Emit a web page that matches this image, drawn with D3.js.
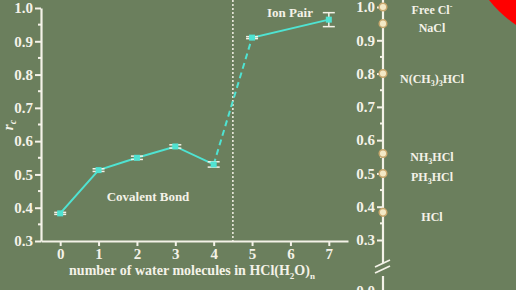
<!DOCTYPE html>
<html>
<head>
<meta charset="utf-8">
<script src="https://cdn.jsdelivr.net/npm/d3@7"></script>
<style>
    body { margin: 0; background: #6b7f5d; }
    svg { display: block; }
    text { font-family: "Liberation Serif", "Times New Roman", serif; font-weight: bold; fill: #f4f2e8; }
</style>
</head>
<body>
<div id="chart"></div>
<script>
// water molecules n and contact ratio r_c
const waterN = [0, 1, 2, 3, 4, 5, 7]
const rcValues = [0.383, 0.513, 0.55, 0.584, 0.53, 0.911, 0.965]
const rcErrors = [0.003, 0.004, 0.005, 0.005, 0.008, 0.003, 0.021]
const xTicks = [0, 1, 2, 3, 4, 5, 6, 7]
const yTicks = [0.3, 0.4, 0.5, 0.6, 0.7, 0.8, 0.9, 1.0]

// reference compounds on the right scale
const refNames = ["Free Cl", "NaCl", "N(CH3)3HCl", "NH3HCl", "PH3HCl", "HCl"]
const refValues = [1.0, 0.95, 0.8, 0.56, 0.5, 0.383]

const w = 516
const h = 290
const lineCol = '#4fe3d2'
const white = '#f4f2e8'

const svg = d3.select('#chart')
    .append('svg')
    .attr('width', w)
    .attr('height', h)

svg.append('rect')
    .attr('width', w)
    .attr('height', h)
    .attr('fill', '#6b7f5d')

// red corner
svg.append('path')
    .attr('d', 'M489,0 Q500,14 516,25 L516,0 Z')
    .attr('fill', '#ff0000')

const xScale = d3.scaleLinear()
    .domain([-0.5, 7.5])
    .range([41, 348])

const yScale = d3.scaleLinear()
    .domain([0.3, 1.0])
    .range([241, 8])

const styleAxis = (g) => {
    g.attr('font-family', null).attr('font-size', null)
    g.selectAll('.domain').attr('stroke', white).attr('stroke-width', 2.2)
    g.selectAll('.tick line').attr('stroke', white).attr('stroke-width', 2)
    g.selectAll('.tick text')
        .attr('fill', white)
        .attr('font-size', 15)
        .attr('font-weight', 'bold')
}

// minor ticks on y
const minor = d3.range(0.35, 1.0, 0.1)

svg.append('g')
    .attr('transform', 'translate(41,0)')
    .selectAll('line')
    .data(minor)
    .enter()
    .append('line')
    .attr('x1', -3)
    .attr('x2', 0)
    .attr('y1', d => yScale(d))
    .attr('y2', d => yScale(d))
    .attr('stroke', white)
    .attr('stroke-width', 2)

const yAxis = d3.axisLeft(yScale)
    .tickValues(yTicks)
    .tickFormat(d3.format('.1f'))
    .tickSize(6)
    .tickSizeOuter(0)
    .tickPadding(2)

svg.append('g')
    .attr('transform', 'translate(41,0)')
    .call(yAxis)
    .call(styleAxis)

const xAxis = d3.axisBottom(xScale)
    .tickValues(xTicks)
    .tickFormat(d3.format('d'))
    .tickSize(5)
    .tickSizeOuter(0)
    .tickPadding(2)

svg.append('g')
    .attr('transform', 'translate(0,241)')
    .call(xAxis)
    .call(styleAxis)

// dotted separator at n = 4.5
svg.append('line')
    .attr('x1', xScale(4.5))
    .attr('x2', xScale(4.5))
    .attr('y1', 0)
    .attr('y2', 241)
    .attr('stroke', white)
    .attr('stroke-width', 1.5)
    .attr('stroke-dasharray', '2,2')

// lines: solid, dashed between 4 and 5, solid
const pts = waterN.map((n, i) => [xScale(n), yScale(rcValues[i])])
const line = d3.line()

svg.append('path')
    .attr('d', line(pts.slice(0, 5)))
    .attr('fill', 'none')
    .attr('stroke', lineCol)
    .attr('stroke-width', 2)

svg.append('path')
    .attr('d', line(pts.slice(4, 6)))
    .attr('fill', 'none')
    .attr('stroke', lineCol)
    .attr('stroke-width', 2)
    .attr('stroke-dasharray', '6,4')

svg.append('path')
    .attr('d', line(pts.slice(5)))
    .attr('fill', 'none')
    .attr('stroke', lineCol)
    .attr('stroke-width', 2)

// error bars
const eb = svg.append('g')
waterN.forEach((n, i) => {
    const x = xScale(n)
    const y1 = yScale(rcValues[i] - rcErrors[i])
    const y2 = yScale(rcValues[i] + rcErrors[i])
    eb.append('line').attr('x1', x).attr('x2', x).attr('y1', y1).attr('y2', y2)
    eb.append('line').attr('x1', x - 6).attr('x2', x + 6).attr('y1', y1).attr('y2', y1)
    eb.append('line').attr('x1', x - 6).attr('x2', x + 6).attr('y1', y2).attr('y2', y2)
})
eb.selectAll('line').attr('stroke', white).attr('stroke-width', 1.5)

svg.append('g')
    .selectAll('rect')
    .data(waterN)
    .enter()
    .append('rect')
    .attr('x', d => xScale(d) - 3)
    .attr('y', (d, i) => yScale(rcValues[i]) - 3)
    .attr('width', 6)
    .attr('height', 6)
    .attr('fill', lineCol)

// labels
svg.append('text')
    .attr('x', 290)
    .attr('y', 17)
    .attr('text-anchor', 'middle')
    .style('font-size', '13px')
    .text('Ion Pair')

svg.append('text')
    .attr('x', 148)
    .attr('y', 201)
    .attr('text-anchor', 'middle')
    .style('font-size', '13px')
    .text('Covalent Bond')

const xt = svg.append('text')
    .attr('x', 192)
    .attr('y', 275)
    .attr('text-anchor', 'middle')
    .style('font-size', '14px')
xt.append('tspan').text('number of water molecules in HCl(H')
xt.append('tspan').attr('dy', 4).style('font-size', '9px').text('2')
xt.append('tspan').attr('dy', -4).text('O)')
xt.append('tspan').attr('dy', 4).style('font-size', '9px').text('n')

const yt = svg.append('text')
    .attr('transform', 'translate(13,125) rotate(-90)')
    .attr('text-anchor', 'middle')
    .style('font-size', '15px')
    .style('font-style', 'italic')
yt.append('tspan').text('r')
yt.append('tspan').attr('dy', 3).style('font-size', '10px').text('c')

// right reference axis
const axR = 383
const yR = d3.scaleLinear()
    .domain([0.3, 1.0])
    .range([240, 7])

const yAxisR = d3.axisLeft(yR)
    .tickValues(yTicks)
    .tickFormat(d3.format('.1f'))
    .tickSize(6)
    .tickSizeOuter(0)
    .tickPadding(2)

const gR = svg.append('g')
    .attr('transform', 'translate(' + axR + ',0)')
gR.call(yAxisR).call(styleAxis)
gR.select('.domain').remove()

gR.selectAll('.minor')
    .data(minor)
    .enter()
    .append('line')
    .attr('x1', -3)
    .attr('x2', 0)
    .attr('y1', d => yR(d))
    .attr('y2', d => yR(d))
    .attr('stroke', white)
    .attr('stroke-width', 2)

// broken axis line
gR.append('line').attr('x1', 0).attr('x2', 0).attr('y1', 0).attr('y2', 263)
    .attr('stroke', white).attr('stroke-width', 2.2)
gR.append('line').attr('x1', 0).attr('x2', 0).attr('y1', 276).attr('y2', 290)
    .attr('stroke', white).attr('stroke-width', 2.2)
gR.append('line').attr('x1', -8).attr('x2', 7).attr('y1', 267).attr('y2', 260)
    .attr('stroke', white).attr('stroke-width', 1.8)
gR.append('line').attr('x1', -8).attr('x2', 7).attr('y1', 273).attr('y2', 266)
    .attr('stroke', white).attr('stroke-width', 1.8)
gR.append('text')
    .attr('x', -8)
    .attr('y', 296)
    .attr('text-anchor', 'end')
    .style('font-size', '15px')
    .text('0.0')

gR.selectAll('circle')
    .data(refValues)
    .enter()
    .append('circle')
    .attr('cx', 0)
    .attr('cy', d => yR(d))
    .attr('r', 3.8)
    .attr('fill', '#f3e9c6')
    .attr('stroke', '#c9a86e')
    .attr('stroke-width', 1.5)

const labOff = [7, 8, 9, 8, 8, 9]
refNames.forEach((name, i) => {
    const t = svg.append('text')
        .attr('x', 432)
        .attr('y', yR(refValues[i]) + labOff[i])
        .attr('text-anchor', 'middle')
        .style('font-size', '12px')
    const parts = name.split(/(\d)/).filter(p => p !== '')
    let shift = 0
    parts.forEach(p => {
        if (/\d/.test(p)) {
            t.append('tspan').attr('dy', 3 - shift).style('font-size', '8px').text(p)
            shift = 3
        } else {
            t.append('tspan').attr('dy', -shift).text(p)
            shift = 0
        }
    })
    if (name === 'Free Cl') {
        t.append('tspan').attr('dy', -5).style('font-size', '8px').text('-')
    }
})
</script>
</body>
</html>
